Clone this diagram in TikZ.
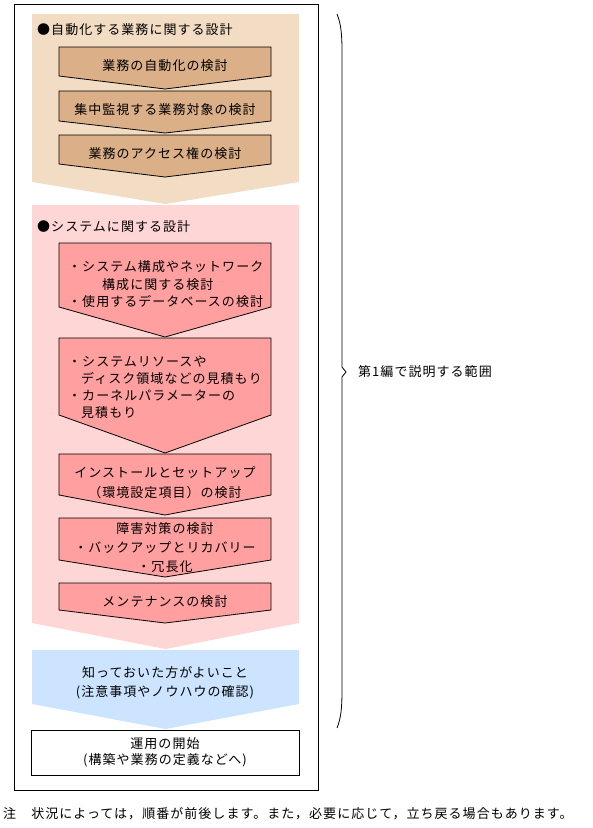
\documentclass[tikz,border=0pt]{standalone}
\usepackage{fontspec}
\setmainfont{Noto Sans CJK JP}[LetterSpace=8]
\definecolor{peach}{RGB}{243,220,196}
\definecolor{tanbox}{RGB}{219,175,135}
\definecolor{pinkbg}{RGB}{255,214,214}
\definecolor{pinkbox}{RGB}{255,159,159}
\definecolor{bluebg}{RGB}{204,228,255}
\newcommand\mychev[6]{\path[#6] (#1,#3) -- (#2,#3) -- (#2,#4) -- ({(#1+#2)/2},#5) -- (#1,#4) -- cycle;}
\begin{document}
\begin{tikzpicture}[x=1pt,y=-1pt,
  band/.style={fill=#1},
  boxst/.style={fill=#1,draw=black,line width=0.8pt,line join=miter},
  txt/.style={inner sep=0pt,font=\fontsize{13}{17}\selectfont,text=black},
  frame/.style={draw=black,line width=1pt}]
\useasboundingbox (0,0) rectangle (593,828);
% outer frame
\draw[frame] (14,4) rectangle (318,790);
% bands
\mychev{32}{299}{14}{182}{204}{band=peach}
\mychev{32}{299}{205}{623}{649}{band=pinkbg}
\mychev{32}{299}{650}{704}{729}{band=bluebg}
% tan boxes
\mychev{59}{271}{47}{76}{89}{boxst=tanbox}
\mychev{59}{271}{91}{121}{133}{boxst=tanbox}
\mychev{59}{271}{135}{164}{177}{boxst=tanbox}
% pink boxes
\mychev{59}{271}{243}{307}{337}{boxst=pinkbox}
\mychev{59}{271}{338}{415}{453}{boxst=pinkbox}
\mychev{59}{271}{454}{495}{515}{boxst=pinkbox}
\mychev{59}{271}{518}{560}{577}{boxst=pinkbox}
\mychev{59}{271}{583}{610}{623}{boxst=pinkbox}
% headers
\node[txt,anchor=west] (h1) at (37,30) {●自動化する業務に関する設計};
\node[txt,anchor=west] (h2) at (37,227) {●システムに関する設計};
% texts
\node[txt] (t1) at (165,66) {業務の自動化の検討};
\node[txt] (t2) at (165,110) {集中監視する業務対象の検討};
\node[txt] (t3) at (165,154) {業務のアクセス権の検討};
\node[txt,anchor=west,align=left,font=\fontsize{13}{17.5}\selectfont] (t4) at (68,284.5)
  {・システム構成やネットワーク\\\hspace{34pt}構成に関する検討\\・使用するデータベースの検討};
\node[txt,anchor=west,align=left,font=\fontsize{13}{17}\selectfont] (t5) at (68,387.5)
  {・システムリソースや\\\hspace{13pt}ディスク領域などの見積もり\\・カーネルパラメーターの\\\hspace{13pt}見積もり};
\node[txt,align=center,font=\fontsize{13}{20}\selectfont] (t6) at (165,483)
  {インストールとセットアップ\\（環境設定項目）の検討};
\node[txt,align=center,font=\fontsize{13}{19}\selectfont] (t7) at (165,548)
  {障害対策の検討\\・バックアップとリカバリー\\・冗長化};
\node[txt] (t8) at (165,602) {メンテナンスの検討};
\node[txt,align=center,font=\fontsize{13}{19}\selectfont] (tb) at (165,682.5)
  {知っておいた方がよいこと\\(注意事項やノウハウの確認)};
\node[draw=black,line width=0.8pt,minimum width=268pt,minimum height=45pt,inner sep=0pt,
  align=center,font=\fontsize{13}{16}\selectfont] (tl) at (165,752.5)
  {運用の開始\\(構築や業務の定義などへ)};
% brace
\coordinate (bt) at (337,14);
\coordinate (bm) at (346,372);
\coordinate (bb) at (337,728);
\draw[line width=0.8pt] (bt) .. controls (341,24) and (342,34) .. (342,52) -- (342,367) -- (bm) -- (342,377) -- (342,690) .. controls (342,708) and (341,718) .. (bb);
\node[txt,anchor=west] (range) at (358,372) {第1編で説明する範囲};
% note
\node[txt,anchor=west] (note) at (3,814) {注　状況によっては，順番が前後します。また，必要に応じて，立ち戻る場合もあります。};
\end{tikzpicture}
\end{document}
